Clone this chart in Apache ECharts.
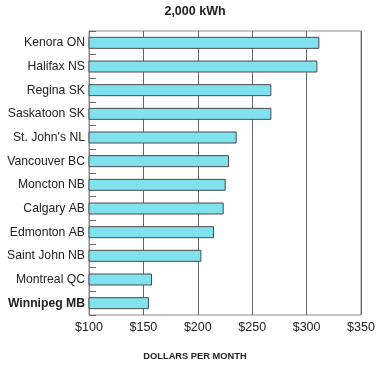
<!DOCTYPE html>
<html>
<head>
<meta charset="utf-8">
<script src="https://cdn.jsdelivr.net/npm/echarts@6/dist/echarts.min.js"></script>
<style>html,body{margin:0;padding:0;background:#fff}#c{width:380px;height:367px}</style>
</head>
<body>
<div id="c"></div>
<script>
var cities = ["Kenora ON","Halifax NS","Regina SK","Saskatoon SK","St. John's NL","Vancouver BC","Moncton NB","Calgary AB","Edmonton AB","Saint John NB","Montreal QC","Winnipeg MB"];
var dollars = [311.7, 309.9, 267.6, 267.6, 235.7, 228.7, 225.6, 223.8, 214.9, 203.3, 157.9, 155.1];
var xTicks = [100, 150, 200, 250, 300, 350];
var highlight = "Winnipeg MB";

var chart = echarts.init(document.getElementById('c'), null, {renderer:'canvas'});
chart.setOption({
  animation:false,
  backgroundColor:'#fff',
  graphic:[
    {type:'text', x:195, y:12, style:{text:'2,000 kWh', align:'center', verticalAlign:'middle', font:'bold 12.5px "Liberation Sans", Arial', fill:'#222'}},
    {type:'text', x:195, y:356, style:{text:'DOLLARS PER MONTH', align:'center', verticalAlign:'middle', font:'bold 9.3px "Liberation Sans", Arial', fill:'#222'}}
  ],
  grid:{left:89, right:19, top:31, bottom:52, show:true, borderColor:'#8a8a8a', borderWidth:1},
  xAxis:{type:'value', min:xTicks[0], max:xTicks[xTicks.length-1], interval:50,
    axisLine:{show:false}, axisTick:{show:false},
    splitLine:{show:true, lineStyle:{color:'#666', width:1}},
    axisLabel:{formatter:function(v){return '$'+v;}, fontFamily:'Liberation Sans, Arial', fontSize:12.5, color:'#222', margin:6}},
  yAxis:{type:'category', data:cities, inverse:true,
    axisLine:{show:true, lineStyle:{color:'#8a8a8a'}},
    axisTick:{show:true, inside:true, length:7, lineStyle:{color:'#666'}},
    axisLabel:{fontFamily:'Liberation Sans, Arial', fontSize:12.2, color:'#222', margin:4,
      formatter:function(v){return v===highlight ? '{b|'+v+'}' : v;},
      rich:{b:{fontWeight:'bold', fontFamily:'Liberation Sans, Arial', fontSize:12.2, color:'#222'}}}},
  series:[{type:'bar', data:dollars, barWidth:12,
    itemStyle:{color:'#80e1ef', borderColor:'#4a4a4a', borderWidth:1}}]
});
</script>
</body>
</html>
